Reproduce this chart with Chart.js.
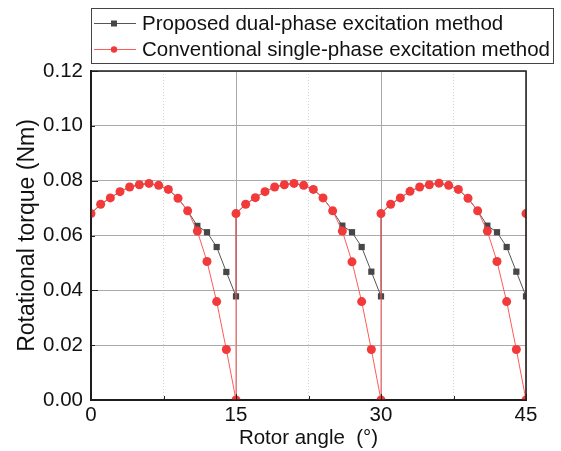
<!DOCTYPE html>
<html>
<head>
<meta charset="utf-8">
<script src="https://cdn.jsdelivr.net/npm/chart.js@4.4.1/dist/chart.umd.min.js"></script>
<style>
  html, body { margin: 0; padding: 0; background: #fff; }
  #wrap { width: 561px; height: 451px; }
</style>
</head>
<body>
<div id="wrap"><canvas id="torqueChart" width="561" height="451"></canvas></div>
<script>
// rotor angle (deg) - each period starts again at the jump
const angle = [
  0, 1, 2, 3, 4, 5, 6, 7, 8, 9, 10, 11, 12, 13, 14, 15,
  15, 16, 17, 18, 19, 20, 21, 22, 23, 24, 25, 26, 27, 28, 29, 30,
  30, 31, 32, 33, 34, 35, 36, 37, 38, 39, 40, 41, 42, 43, 44, 45,
  45
];
const singlePhase = [
  0.0680, 0.0714, 0.0737, 0.0760, 0.0777, 0.0785, 0.0790, 0.0783, 0.0768, 0.0736, 0.0690, 0.0616, 0.0505, 0.0359, 0.0184, 0.0000,
  0.0680, 0.0714, 0.0738, 0.0760, 0.0777, 0.0785, 0.0790, 0.0783, 0.0768, 0.0737, 0.0690, 0.0616, 0.0504, 0.0359, 0.0184, 0.0000,
  0.0680, 0.0714, 0.0737, 0.0761, 0.0777, 0.0785, 0.0791, 0.0783, 0.0768, 0.0736, 0.0690, 0.0616, 0.0505, 0.0359, 0.0184, 0.0000,
  0.0680
];
const dualPhase = [
  0.0680, 0.0714, 0.0737, 0.0760, 0.0777, 0.0785, 0.0790, 0.0783, 0.0768, 0.0736, 0.0690, 0.0635, 0.0612, 0.0558, 0.0467, 0.0378,
  0.0680, 0.0714, 0.0738, 0.0760, 0.0777, 0.0785, 0.0790, 0.0783, 0.0768, 0.0737, 0.0690, 0.0636, 0.0612, 0.0558, 0.0468, 0.0378,
  0.0680, 0.0714, 0.0737, 0.0761, 0.0777, 0.0785, 0.0791, 0.0783, 0.0768, 0.0736, 0.0690, 0.0636, 0.0612, 0.0558, 0.0468, 0.0378
];
const yTicks = ['0.00', '0.02', '0.04', '0.06', '0.08', '0.10', '0.12'];
const xTicks = [0, 15, 30, 45];
const seriesNames = ['Proposed dual-phase excitation method', 'Conventional single-phase excitation method'];

const FONT = '"Liberation Sans", Arial, sans-serif';
const FS = 20.5;

function toPoints(xs, ys) {
  return ys.map((v, i) => ({ x: xs[i], y: v }));
}

// legend box, inward ticks and the frame
const decor = {
  id: 'decor',
  afterDraw(chart) {
    const c = chart.ctx;
    const a = chart.chartArea;
    const xs = chart.scales.x, ys = chart.scales.y;
    c.save();
    c.strokeStyle = '#222';
    c.lineWidth = 1;
    ys.ticks.forEach((t, i) => {
      const p = Math.round(ys.getPixelForValue(t.value)) + 0.5;
      const len = i % 2 === 0 ? 7 : 4;
      c.beginPath(); c.moveTo(a.left, p); c.lineTo(a.left + len, p); c.stroke();
    });
    xs.ticks.forEach((t) => {
      const p = Math.round(xs.getPixelForValue(t.value)) + 0.5;
      const len = xTicks.includes(t.value) ? 6 : 4;
      c.beginPath(); c.moveTo(p, a.bottom); c.lineTo(p, a.bottom - len); c.stroke();
    });
    c.lineWidth = 1.5;
    c.strokeStyle = '#1e1e1e';
    c.strokeRect(a.left, a.top, a.right - a.left, a.bottom - a.top);

    // legend
    const lx = 91, ly = 8, lw = 462, lh = 55;
    c.lineWidth = 1;
    c.strokeStyle = '#444';
    c.fillStyle = '#fff';
    c.fillRect(lx, ly, lw, lh);
    c.strokeRect(lx + 0.5, ly + 0.5, lw, lh);
    chart.data.datasets.forEach((ds, row) => {
      const y = ly + 15 + row * 26;
      c.strokeStyle = ds.borderColor;
      c.lineWidth = 1;
      c.beginPath(); c.moveTo(94, y + 0.5); c.lineTo(136, y + 0.5); c.stroke();
      c.fillStyle = ds.pointBackgroundColor;
      if (ds.pointStyle === 'rect') {
        c.fillRect(111, y - 2.5, 6, 6);
      } else {
        c.beginPath(); c.arc(114, y + 0.5, 3.2, 0, Math.PI * 2); c.fill();
      }
      c.fillStyle = '#111';
      c.font = FS + 'px ' + FONT;
      c.textBaseline = 'middle';
      c.fillText(ds.label, 142, y + 1);
    });
    c.restore();
  }
};

new Chart(document.getElementById('torqueChart'), {
  type: 'scatter',
  data: {
    datasets: [{
      label: seriesNames[0],
      data: toPoints(angle, dualPhase),
      order: 2,
      showLine: true,
      borderColor: '#555',
      borderWidth: 1,
      pointStyle: 'rect',
      pointRadius: 4.4,
      pointBackgroundColor: '#474747',
      pointBorderWidth: 0,
      clip: 0
    }, {
      label: seriesNames[1],
      data: toPoints(angle, singlePhase),
      order: 1,
      showLine: true,
      borderColor: '#ff5a5a',
      borderWidth: 1,
      pointStyle: 'circle',
      pointRadius: 4.5,
      pointBackgroundColor: '#f23a3a',
      pointBorderWidth: 0,
      clip: 0
    }]
  },
  options: {
    responsive: false,
    animation: false,
    layout: { padding: { top: 71, right: 35, left: 0, bottom: 0 } },
    plugins: { legend: { display: false }, tooltip: { enabled: false } },
    scales: {
      x: {
        type: 'linear',
        min: 0, max: 45,
        afterFit(s) { s.height = 51; },
        ticks: {
          stepSize: 7.5,
          padding: 3,
          color: '#111',
          font: { family: FONT, size: FS },
          maxRotation: 0,
          callback: (v) => xTicks.includes(v) ? String(v) : ''
        },
        grid: {
          drawTicks: false,
          lineWidth: 1,
          color: (ctx) => xTicks.includes(ctx.tick && ctx.tick.value) ? '#aaaaaa' : '#d4d4d4'
        },
        border: {
          color: '#1e1e1e', width: 2,
          dash: (ctx) => (ctx.tick && !xTicks.includes(ctx.tick.value)) ? [1, 2] : []
        },
        title: {
          display: true,
          text: 'Rotor angle  (°)',
          color: '#111',
          font: { family: FONT, size: FS },
          padding: { top: 0, bottom: 0 }
        }
      },
      y: {
        min: 0, max: 0.12,
        afterFit(s) { s.width = 91; },
        ticks: {
          stepSize: 0.01,
          padding: 8,
          color: '#111',
          font: { family: FONT, size: FS },
          callback: (v, i) => i % 2 === 0 ? yTicks[i / 2] : ''
        },
        grid: {
          drawTicks: false,
          lineWidth: 1,
          color: (ctx) => (ctx.index % 2 === 0) ? '#aaaaaa' : '#d4d4d4'
        },
        border: {
          color: '#1e1e1e', width: 2,
          dash: (ctx) => (ctx.type === 'tick' && ctx.index % 2 === 1) ? [1, 2] : []
        },
        title: {
          display: true,
          text: 'Rotational torque (Nm)',
          color: '#111',
          font: { family: FONT, size: 23 },
          padding: { top: 14, bottom: 0 }
        }
      }
    }
  },
  plugins: [decor]
});
</script>
</body>
</html>
